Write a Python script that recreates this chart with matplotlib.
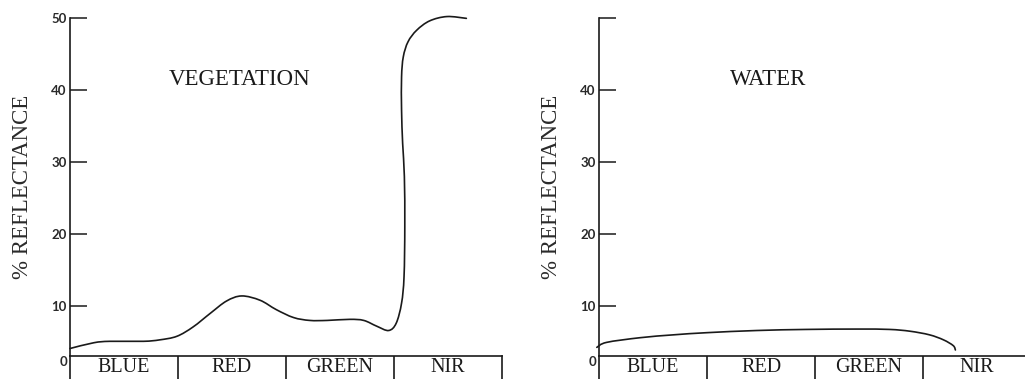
import matplotlib.pyplot as plt
from matplotlib.path import Path
from matplotlib.patches import PathPatch

# --- values ---
BANDS = ["BLUE", "RED", "GREEN", "NIR"]

# vegetation curve (x: band index, 0..4 ; y: % reflectance)
VEG_X = [0.00, 0.22, 0.37, 0.68, 0.83, 0.99, 1.14, 1.30, 1.45, 1.59, 1.76,
         1.91, 2.07, 2.22, 2.38, 2.59, 2.72, 2.84, 2.95, 3.02, 3.07, 3.093,
         3.10, 3.096, 3.08, 3.07, 3.07, 3.086, 3.13, 3.21, 3.33, 3.49, 3.67]
VEG_Y = [4.1, 4.9, 5.1, 5.1, 5.3, 5.8, 7.1, 9.0, 10.7, 11.4, 10.8,
         9.5, 8.4, 8.0, 8.0, 8.15, 8.0, 7.2, 6.6, 7.6, 10.4, 14.1,
         21.0, 28.0, 32.6, 37.2, 41.8, 44.6, 46.7, 48.3, 49.6, 50.2, 49.95]

# water curve
WATER_X = [-0.02, 0.07, 0.38, 0.69, 1.00, 1.46, 1.92, 2.39, 2.69, 2.88,
           3.06, 3.19, 3.28, 3.30]
WATER_Y = [4.26, 4.95, 5.6, 6.0, 6.3, 6.6, 6.75, 6.8, 6.75, 6.5,
           6.0, 5.3, 4.5, 3.9]

VEG_TICKS = [10, 20, 30, 40, 50]
VEG_TICK_LABELS = ["10", "20", "30", "40", "50"]
WATER_TICKS = [10, 20, 30, 40, 50]
WATER_TICK_LABELS = ["10", "20", "30", "40", ""]

# --- layout (pixels of a 1025x379 canvas) ---
W, H = 1025, 379
YMIN = 3.06  # value at the top edge of the band strip
INK = "#1a1a1a"
SERIF = "Liberation Serif"


def box(x0, y0, x1, y1):
    return [x0 / W, 1 - y1 / H, (x1 - x0) / W, (y1 - y0) / H]


def smooth_path(xs, ys):
    # hand-drawn look: Bezier segments passing through the read points
    pts = list(zip(xs, ys))
    n = len(pts)
    verts, codes = [pts[0]], [Path.MOVETO]
    for i in range(n - 1):
        p0, p1 = pts[max(i - 1, 0)], pts[i]
        p2, p3 = pts[i + 1], pts[min(i + 2, n - 1)]
        c1 = (p1[0] + (p2[0] - p0[0]) / 6, p1[1] + (p2[1] - p0[1]) / 6)
        c2 = (p2[0] - (p3[0] - p1[0]) / 6, p2[1] - (p3[1] - p1[1]) / 6)
        verts += [c1, c2, p2]
        codes += [Path.CURVE4] * 3
    return Path(verts, codes)


def panel(fig, x0, title, xs, ys, ticks, tick_labels):
    ax = fig.add_axes(box(x0, 18, x0 + 432, 356))
    ax.set_xlim(0, 4)
    ax.set_ylim(YMIN, 50)
    for s in ("top", "right", "bottom"):
        ax.spines[s].set_visible(False)
    ax.spines["left"].set_linewidth(1.2)
    ax.spines["left"].set_color(INK)
    ax.set_xticks([])
    ax.set_yticks(ticks)
    ax.set_yticklabels(tick_labels, fontfamily="Lato", fontsize=9.5,
                       fontweight="bold", color="#2a2a2a")
    ax.tick_params(axis="y", direction="in", length=12, width=1.1,
                   color=INK, pad=2.5)
    ax.text(-0.02, YMIN, "0", fontfamily="Lato", fontsize=9.5,
            fontweight="bold", color="#2a2a2a", ha="right", va="top")
    ax.add_patch(PathPatch(smooth_path(xs, ys), fill=False, edgecolor=INK,
                           lw=1.2, clip_on=False, capstyle="round",
                           joinstyle="round"))
    ax.text(1.57, 41.5, title, fontfamily=SERIF, fontsize=16.5,
            color=INK, ha="center", va="center")
    ax.set_ylabel("% REFLECTANCE", fontfamily=SERIF, fontsize=16.5,
                  color="#2a2a2a", labelpad=13)

    band = fig.add_axes(box(x0, 356, x0 + 432, 390))
    band.set_xlim(0, 4)
    band.set_ylim(0, 1)
    band.set_xticks([])
    band.set_yticks([])
    for s in band.spines.values():
        s.set_linewidth(1.2)
        s.set_color(INK)
    for i, name in enumerate(BANDS):
        if i > 0:
            band.axvline(i, color=INK, lw=1.2)
        band.text(i + 0.5, 0.66, name, fontfamily=SERIF, fontsize=14.5,
                  color=INK, ha="center", va="center")
    return ax


fig = plt.figure(figsize=(W / 100, H / 100), dpi=100)
panel(fig, 70, "VEGETATION", VEG_X, VEG_Y, VEG_TICKS, VEG_TICK_LABELS)
panel(fig, 599, "WATER", WATER_X, WATER_Y, WATER_TICKS, WATER_TICK_LABELS)
fig.savefig("out.png", dpi=100)
